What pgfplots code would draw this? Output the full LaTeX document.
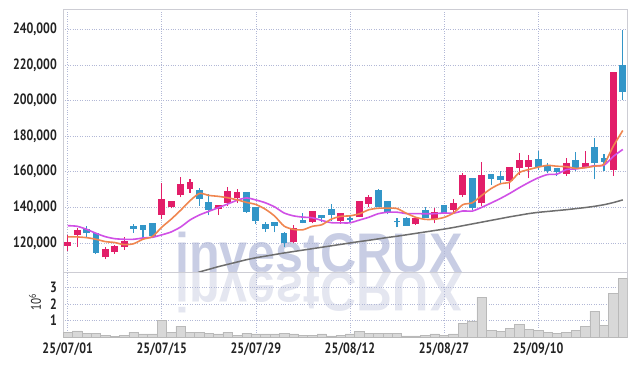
\documentclass[border=0pt]{standalone}
\usepackage{pgfplots}
\pgfplotsset{compat=1.18}
\usepackage{pgfplotstable}
\usepackage{fontspec}
\setmainfont{PT Sans}[FakeStretch=0.8]
\newfontfamily\wmfont{Liberation Sans}[FakeStretch=0.9]

\definecolor{upc}{RGB}{226,30,105}
\definecolor{dnc}{RGB}{51,150,200}
\definecolor{ma5}{RGB}{240,134,80}
\definecolor{ma10}{RGB}{208,80,230}
\definecolor{malong}{RGB}{110,110,110}
\definecolor{gridc}{RGB}{178,184,214}
\definecolor{framec}{RGB}{205,205,212}
\definecolor{labc}{RGB}{35,35,35}
\definecolor{volc}{RGB}{216,216,216}
\definecolor{volline}{RGB}{185,185,185}
\definecolor{wm}{RGB}{200,205,228}
\definecolor{wm2}{RGB}{228,230,240}

% up candles: i open high low close
\pgfplotstableread{
i o h l c
0 118500 124500 115700 120400
1 124660 128600 117900 126900
4 111970 117900 111000 116600
5 115100 118900 113800 117750
6 117900 123540 116070 120950
10 135730 153700 133300 144160
11 140200 143600 139500 143430
12 147130 157250 145680 152980
13 150170 155800 148260 154100
16 139100 141350 135900 140790
17 142640 151630 140790 149050
18 145280 150170 142640 148260
24 120390 129940 120000 128260
26 131970 137980 131070 137420
29 132530 136850 130670 136290
31 134440 143430 134440 143030
32 141910 147130 140390 145280
37 130500 134050 130110 133880
39 133310 139830 131070 137020
41 138540 144720 137580 141910
42 146970 159160 146010 157640
44 142300 165340 140950 157640
47 155000 162700 150170 162530
48 162300 170390 158200 166070
49 162870 169440 156350 166070
53 158760 167580 157810 164780
55 162530 171850 161970 164780
58 161010 215680 157810 215680
}\up

% down candles: i open high low close
\pgfplotstableread{
i o h l c
2 127470 129700 123540 125450
3 125450 125600 113800 114550
7 129000 130670 125800 128030
8 129940 130100 122800 127300
9 131070 131200 123500 123930
14 149600 150730 140950 144550
15 142640 147360 135560 138540
19 148090 148650 136850 137420
20 139660 140200 130670 132530
21 130110 131800 126350 127700
22 131240 131500 126000 129550
23 125060 126350 117750 120170
25 132530 136690 131070 131400
27 135170 135730 131630 133880
28 138540 141910 132360 135730
30 133480 135170 131400 132920
33 149600 150170 140060 140060
34 143030 143030 136120 136690
35 131970 134210 128820 131630
36 133480 134770 129550 129720
38 137980 140060 133880 134210
40 140790 141180 136690 136690
43 156350 156350 138540 139500
45 158200 158760 152580 156120
46 157250 160620 153540 155390
50 166630 171850 161010 162870
51 163430 164780 159160 160450
52 161570 162300 157640 160060
54 166070 170960 160620 161400
56 173540 179160 155790 164780
57 167190 170000 160620 165680
59 219600 239660 200340 205000
}\down

\pgfplotstableread{
i v
0 123400
1 123400
2 123000
3 122100
4 120780
5 120250
6 119060
7 119576
8 122126
9 123592
10 128874
11 133370
12 138360
13 143720
14 147844
15 146720
16 146192
17 145406
18 144238
19 142812
20 141610
21 138992
22 135092
23 129474
24 127642
25 127416
26 129360
27 130226
28 133338
29 134944
30 135248
31 136370
32 138650
33 139516
34 139596
35 139338
36 136676
37 134396
38 133272
39 133338
40 134350
41 136788
42 141540
43 142552
44 146676
45 150562
46 153258
47 154236
48 159550
49 161236
50 162586
51 163598
52 163104
53 162846
54 161912
55 162294
56 163160
57 164284
58 174464
59 183184
}\mafive

\pgfplotstableread{
i v
0 129720
1 129380
2 127700
3 125450
4 123540
5 122420
6 122080
7 122080
8 122800
9 123200
10 124562
11 126215
12 128968
13 132923
14 135718
15 137797
16 139781
17 141883
18 143979
19 145328
20 144165
21 142592
22 140249
23 136856
24 135227
25 134513
26 134176
27 132659
28 131406
29 131293
30 131332
31 132865
32 134438
33 136427
34 137270
35 137293
36 136523
37 136523
38 136394
39 136467
40 136844
41 136732
42 137968
43 137912
44 140007
45 142456
46 145023
47 147888
48 151051
49 153956
50 156574
51 158428
52 158670
53 161198
54 161574
55 162440
56 163379
57 163694
58 168655
59 172548
}\maten

\pgfplotstableread{
i v
13 101500
14 103700
15 105200
16 106700
17 108000
18 109300
19 110600
20 111700
21 112600
22 113500
23 114400
24 115200
25 116000
26 116800
27 117600
28 118400
29 119200
30 120000
31 120800
32 121500
33 122300
34 123100
35 123800
36 124600
37 125400
38 126200
39 127000
40 127800
41 128700
42 129700
43 130700
44 131700
45 132700
46 133700
47 134700
48 135600
49 136500
50 137200
51 137700
52 138200
53 138700
54 139300
55 139900
56 140600
57 141500
58 142700
59 144200
}\malong

\pgfplotstableread{
i v
0 0.29
1 0.39
2 0.25
3 0.25
4 0.13
5 0.07
6 0.13
7 0.31
8 0.21
9 0.21
10 1.03
11 0.31
12 0.67
13 0.31
14 0.31
15 0.25
16 0.20
17 0.31
18 0.13
19 0.25
20 0.21
21 0.20
22 0.20
23 0.25
24 0.20
25 0.13
26 0.10
27 0.20
28 0.08
29 0.10
30 0.20
31 0.35
32 0.22
33 0.22
34 0.22
35 0.22
36 0.08
37 0.08
38 0.10
39 0.20
40 0.13
41 0.20
42 0.85
43 0.99
44 2.41
45 0.43
46 0.37
47 0.55
48 0.79
49 0.49
50 0.43
51 0.31
52 0.25
53 0.31
54 0.43
55 0.67
56 1.57
57 0.73
58 2.65
59 3.54
}\vol

\pgfplotsset{
  panel/.style={
    scale only axis, anchor=south west, width=564.5bp,
    xmin=-0.5, xmax=59.5,
    grid=major, grid style={dotted, color=gridc, line width=0.7bp},
    axis line style={color=framec, line width=0.8bp},
    major tick length=0pt,
    /pgf/number format/assume math mode=true,
    tick label style={font=\fontsize{15}{15}\selectfont\bfseries, text=labc},
  },
  candle/.style={draw=none, mark=none, forget plot,
    error bars/.cd, y dir=plus, y explicit, error mark=none,
    error bar style={#1}},
}

\begin{document}
\begin{tikzpicture}[x=1bp,y=1bp]
\path[use as bounding box] (0bp,0bp) rectangle (637bp,366bp);
\fill[white] (0bp,0bp) rectangle (637bp,366bp);
% watermark and its reflection
\node[anchor=base west, inner sep=0pt, text=wm] at (175bp,93.3bp)
  {\fontsize{56}{56}\selectfont\wmfont\bfseries investCRUX};
\node[anchor=base west, inner sep=0pt, text=wm2, yscale=-1, transform shape] at (175bp,93.3bp)
  {\fontsize{56}{56}\selectfont\wmfont\bfseries investCRUX};

\begin{axis}[panel, at={(63bp,93.3bp)}, height=263.4bp,
  ymin=103315, ymax=251236,
  xtick={0,10,20,30,40,50}, xticklabels={},
  ytick={120000,140000,160000,180000,200000,220000,240000},
  scaled y ticks=false,
  yticklabel style={/pgf/number format/fixed, /pgf/number format/1000 sep={,}, anchor=east, inner sep=0pt, xshift=-6bp},
  clip=true]
% long MA
\addplot[color=malong, line width=1.5bp, smooth, tension=0.4] table[x=i,y=v] {\malong};
% wicks
\addplot[candle={draw=upc, line width=1.1bp}]
  table[x=i, y=l, y error plus expr=\thisrow{h}-\thisrow{l}] {\up};
\addplot[candle={draw=dnc, line width=1.1bp}]
  table[x=i, y=l, y error plus expr=\thisrow{h}-\thisrow{l}] {\down};
% bodies
\addplot[candle={draw=upc, line width=6.8bp}]
  table[x=i, y=o, y error plus expr=\thisrow{c}-\thisrow{o}+300] {\up};
\addplot[candle={draw=dnc, line width=6.8bp}]
  table[x=i, y=c, y error plus expr=\thisrow{o}-\thisrow{c}+300] {\down};
% moving averages
\addplot[color=ma10, line width=1.6bp, smooth, tension=0.4] table[x=i,y=v] {\maten};
\addplot[color=ma5, line width=1.6bp, smooth, tension=0.4] table[x=i,y=v] {\mafive};
\end{axis}

\begin{axis}[panel, at={(63bp,28.7bp)}, height=64.6bp,
  ymin=0, ymax=3.87,
  xtick={0,10,20,30,40,50},
  xticklabels={25/07/01,25/07/15,25/07/29,25/08/12,25/08/27,25/09/10},
  xticklabel style={anchor=north, inner sep=0pt, yshift=-5.5bp},
  ytick={1,2,3},
  yticklabel style={anchor=east, inner sep=0pt, xshift=-6bp}]
\addplot[ybar, bar width=1, bar shift=0pt, fill=volc, draw=volline, line width=0.5bp] table[x=i,y=v] {\vol};
\end{axis}
\node[rotate=90, text=labc, inner sep=0pt] at (35bp,64bp) {\fontsize{14}{14}\selectfont 10\textsuperscript{6}};
\end{tikzpicture}
\end{document}
